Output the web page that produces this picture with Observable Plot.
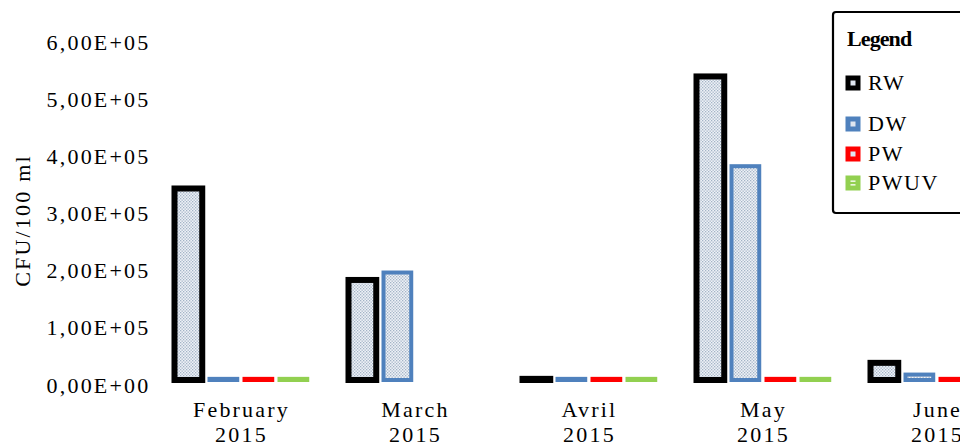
<!DOCTYPE html>
<html>
<head>
<meta charset="utf-8">
<script src="https://cdn.jsdelivr.net/npm/d3@7"></script>
<script src="https://cdn.jsdelivr.net/npm/@observablehq/plot@0.6"></script>
<style>
  html, body { margin: 0; padding: 0; background: #fff; overflow: hidden; }
  #chart { width: 960px; height: 448px; overflow: hidden; }
</style>
</head>
<body>
<div id="chart"></div>
<script>
// ---- data ----
const months = ["February", "March", "Avril", "May", "June"];
const year = "2015";
const series = ["RW", "DW", "PW", "PWUV"];
const RW   = [335000, 175000, 2000, 531000, 30000];
const DW   = [2000, 188000, 2000, 374000, 9500];
const PW   = [2000, null, 2000, 2000, 2000];
const PWUV = [2000, null, 2000, 2000, 2000];
const yTicks = [0, 100000, 200000, 300000, 400000, 500000, 600000];
const yLabel = "CFU/100 ml";
const legendTitle = "Legend";

// ---- styles ----
const colors = {RW: "#000000", DW: "#4f81bd", PW: "#ff0000", PWUV: "#92d050"};
const strokeW = {RW: 6, DW: 4, PW: 4, PWUV: 4};
const values = {RW, DW, PW, PWUV};

const rows = series.flatMap(s => months.map((m, i) => ({series: s, month: m, value: values[s][i]})));

const xRange = [153.1, 1024.4];
const bw = (xRange[1] - xRange[0]) / months.length;
const slot = 35, slot0 = 17, barW = 28;

const fmt = d => {
  if (d === 0) return "0,00E+00";
  const e = Math.floor(Math.log10(Math.abs(d)));
  const m = d / Math.pow(10, e);
  return m.toFixed(2).replace(".", ",") + "E" + (e < 0 ? "-" : "+") + String(Math.abs(e)).padStart(2, "0");
};

const bars = series.map((s, i) => {
  const pad = (slot - barW) / 2;
  return Plot.barY(rows.filter(r => r.series === s && r.value != null), {
    x: "month",
    y: "value",
    fill: "url(#dotfill)",
    stroke: colors[s],
    strokeWidth: strokeW[s],
    insetLeft: slot0 + slot * i + pad,
    insetRight: bw - (slot0 + slot * (i + 1)) + pad
  });
});

const chart = Plot.plot({
  width: 960,
  height: 448,
  marginTop: 60,
  marginBottom: 68,
  marginLeft: 153,
  marginRight: 0,
  style: {fontFamily: "'Liberation Serif', 'Times New Roman', serif", fontSize: "22px", color: "#000", background: "#fff", letterSpacing: "2.2px"},
  x: {domain: months, range: xRange, padding: 0},
  y: {domain: [0, 600000], range: [380, 37]},
  marks: [
    ...bars,
    Plot.axisY({ticks: yTicks, tickFormat: fmt, tickSize: 0, tickPadding: 3, dy: 5, fontSize: 22, label: null}),
    Plot.axisX({tickSize: 0, tickPadding: 19, tickFormat: d => d + "\n" + year, lineHeight: 1.13, fontSize: 22, label: null}),
    Plot.text([yLabel], {text: d => d, frameAnchor: "left", textAnchor: "middle", lineAnchor: "middle", rotate: -90, dx: -131, fontSize: 22})
  ]
});

document.getElementById("chart").appendChild(chart);

const svg = d3.select(chart);
// dotted fill pattern
const defs = svg.insert("defs", ":first-child");
const pat = defs.append("pattern").attr("id", "dotfill").attr("width", 3).attr("height", 3).attr("patternUnits", "userSpaceOnUse");
pat.append("rect").attr("width", 3).attr("height", 3).attr("fill", "#eef2f7");
pat.append("rect").attr("x", 0).attr("y", 0).attr("width", 1.3).attr("height", 1.3).attr("fill", "#a3b3c6");
pat.append("rect").attr("x", 1.5).attr("y", 1.5).attr("width", 1.3).attr("height", 1.3).attr("fill", "#a3b3c6");

// legend box
const legendLayout = {x: 833, y: 12, w: 200, h: 201, titleX: 847, titleY: 46, swatchX: 845.5, textX: 868, rows: [83, 124, 154, 183], size: 15};
const lg = svg.append("g").attr("class", "legend").attr("text-anchor", "start");
lg.append("rect").attr("x", legendLayout.x).attr("y", legendLayout.y).attr("width", legendLayout.w).attr("height", legendLayout.h)
  .attr("rx", 3).attr("fill", "#fff").attr("stroke", "#000").attr("stroke-width", 2.2);
lg.append("text").attr("x", legendLayout.titleX).attr("y", legendLayout.titleY).text(legendTitle)
  .attr("font-weight", "bold").attr("font-size", 22).style("letter-spacing", "-0.9px");
series.forEach((s, i) => {
  const cy = legendLayout.rows[i], sz = legendLayout.size;
  lg.append("rect").attr("x", legendLayout.swatchX).attr("y", cy - sz / 2).attr("width", sz).attr("height", sz).attr("fill", colors[s]);
  if (s === "PWUV") {
    lg.append("rect").attr("x", legendLayout.swatchX + 5).attr("y", cy - 2.5).attr("width", 5).attr("height", 1.3).attr("fill", "#fff");
    lg.append("rect").attr("x", legendLayout.swatchX + 5).attr("y", cy + 1.2).attr("width", 5).attr("height", 1.3).attr("fill", "#fff");
  } else {
    lg.append("rect").attr("x", legendLayout.swatchX + 5).attr("y", cy - 2.5).attr("width", 5).attr("height", 5).attr("fill", "#dfe6f0");
  }
  lg.append("text").attr("x", legendLayout.textX).attr("y", cy + 7).text(s).attr("font-size", 22).style("letter-spacing", "1.5px");
});
</script>
</body>
</html>
